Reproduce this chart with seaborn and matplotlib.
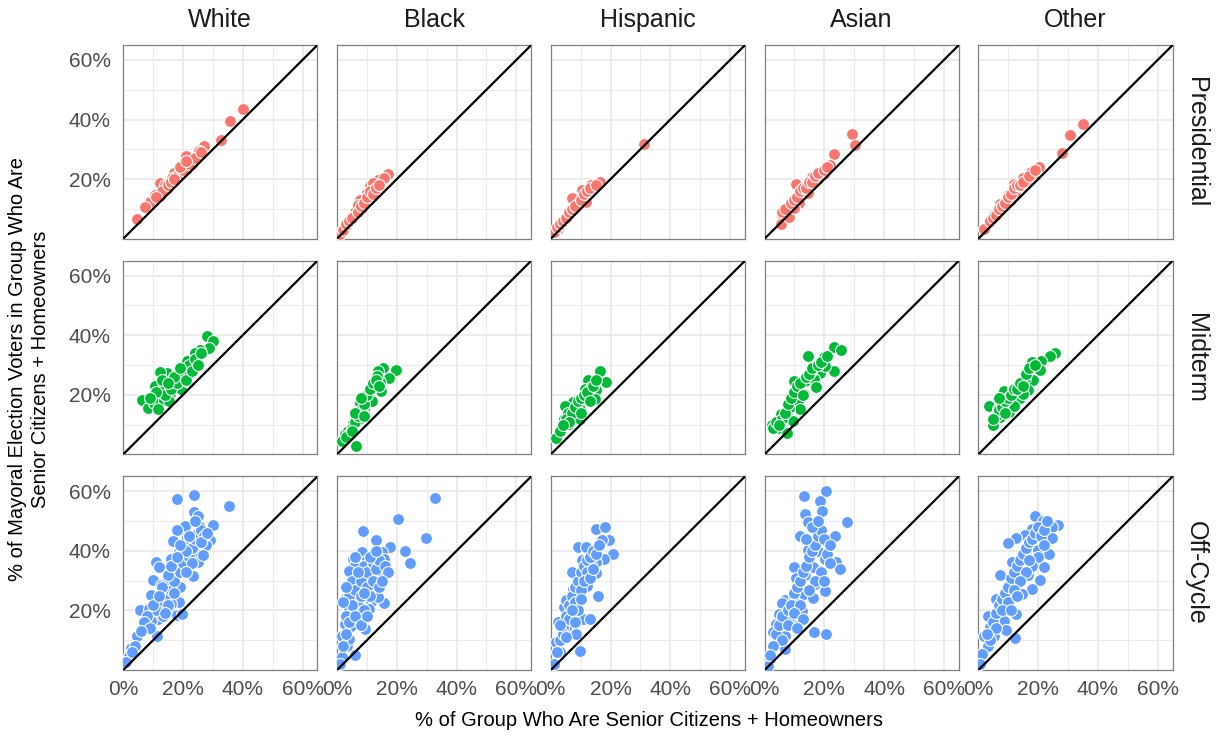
import pandas as pd
import seaborn as sns
import matplotlib.pyplot as plt
from matplotlib.ticker import PercentFormatter

# facets
groups = ['White', 'Black', 'Hispanic', 'Asian', 'Other']
elections = ['Presidential', 'Midterm', 'Off-Cycle']
election_colors = ['#F8766D', '#00BA38', '#619CFF']
x_ticks = [0, 0.2, 0.4, 0.6]
y_ticks = [0.2, 0.4, 0.6]

# values in percent
pres_white_x = [40.0, 35.6, 32.7, 27.0, 22.4, 21.0, 25.4, 19.0, 17.0, 15.8, 14.7, 12.5, 12.5, 9.1, 7.4, 4.8, 17.5, 21.5, 23.0, 19.8, 13.6, 10.8, 14.0, 16.4, 20.3, 18.7,
                13, 15, 16, 18, 20, 22, 24, 19, 21, 17, 11, 26]
pres_white_y = [43.4, 39.5, 33.3, 31.0, 27.0, 27.8, 29.5, 22.5, 22.0, 19.3, 16.8, 18.8, 14.2, 12.5, 10.8, 6.5, 20.8, 23.3, 25.0, 22.2, 16.5, 14.8, 18.2, 20.5, 23.9, 21.6,
                16, 18, 19, 21, 23, 25, 27, 24, 26, 20, 14, 29]
pres_black_x = [17.1, 13.9, 12.8, 11.1, 10.0, 9.4, 7.8, 6.6, 5.5, 4.4, 3.3, 1.0, 11.7, 8.3, 12.2, 15.6, 10.6, 6.0, 5.0, 7.2, 2.1,
                2, 3, 4, 5, 7, 8, 9, 10, 11, 12, 13, 14]
pres_black_y = [21.6, 19.7, 17.0, 17.6, 15.3, 12.5, 13.0, 10.8, 8.0, 6.3, 4.5, 1.7, 15.3, 10.2, 18.8, 20.5, 13.0, 9.0, 7.4, 11.4, 3.4,
                3, 5, 6, 7, 9, 11, 12, 14, 16, 15, 17, 18]
pres_hisp_x = [31.3, 14.7, 13.6, 16.4, 10.6, 7.1, 9.9, 11.9, 8.2, 5.7, 3.5, 2.4, 4.6, 7.4, 9.1, 1.2,
               2, 3, 4, 5, 6, 7, 8, 10, 11, 12, 13, 15]
pres_hisp_y = [31.8, 18.5, 18.2, 19.0, 16.3, 13.6, 12.8, 12.2, 10.6, 8.0, 5.1, 3.4, 6.5, 9.7, 11.7, 2.3,
               4, 5, 6, 7, 9, 10, 11, 13, 15, 16, 17, 18]
pres_asian_x = [29.3, 30.4, 23.3, 21.8, 19.0, 19.9, 16.0, 10.6, 15.6, 13.4, 12.2, 10.0, 8.9, 7.8, 6.0, 5.5, 8.3, 14.5, 17.9, 11.6, 10.0,
                6, 7, 9, 10, 11, 12, 13, 14, 15, 16, 17, 18, 20, 21]
pres_asian_y = [35.0, 31.3, 28.3, 24.8, 22.5, 21.6, 20.8, 18.5, 18.5, 16.3, 14.8, 13.0, 11.9, 10.2, 8.0, 5.1, 7.4, 15.3, 19.9, 11.9, 10.2,
                9, 10, 12, 13, 14, 16, 17, 17, 19, 19, 21, 22, 23, 24]
pres_other_x = [34.9, 30.7, 28.1, 20.2, 18.7, 17.5, 15.0, 11.8, 13.3, 12.4, 9.9, 10.8, 8.2, 7.1, 6.5, 3.7, 2.0, 16.1, 14.4, 5.4,
                4, 5, 6, 7, 8, 9, 10, 11, 12, 13, 14, 15, 17, 19]
pres_other_y = [38.6, 34.7, 28.8, 24.2, 22.2, 22.4, 20.5, 18.5, 17.4, 15.1, 14.8, 13.1, 11.9, 11.6, 9.4, 5.9, 3.4, 19.3, 17.6, 8.0,
                6, 7, 8, 10, 11, 12, 14, 15, 17, 18, 18, 19, 21, 23]

mid_white_x = [28.0, 30.2, 28.8, 25.6, 23.9, 21.2, 22.2, 18.7, 14.7, 12.2, 16.9, 19.8, 10.6, 13.6, 12.8, 17.0, 6.3, 8.2, 10.2, 13.8, 11.6, 15.8, 20.3, 22.8, 19.2, 15.3, 21.5,
               14, 16, 18, 20, 22, 24, 26, 17, 13, 11, 9, 15, 19, 21, 23, 25]
mid_white_y = [39.6, 38.2, 35.6, 35.0, 33.9, 31.5, 28.4, 28.4, 27.3, 27.8, 25.8, 25.3, 23.0, 23.8, 21.2, 23.0, 18.3, 15.7, 17.1, 18.3, 15.4, 20.2, 26.4, 29.8, 21.9, 18.0, 24.7,
               20, 22, 24, 27, 30, 32, 34, 26, 25, 21, 19, 24, 29, 25, 28, 30]
mid_black_x = [19.8, 15.5, 13.9, 17.3, 14.5, 14.7, 11.1, 10.0, 7.8, 9.1, 7.5, 6.1, 4.4, 2.7, 1.6, 6.4, 12.2, 10.6, 5.5, 8.3, 3.8, 13.3, 11.7,
               4, 5, 6, 7, 8, 9, 10, 11, 12, 13, 14, 3, 6, 8, 9, 5]
mid_black_y = [28.3, 28.9, 28.1, 25.5, 24.4, 21.3, 21.3, 19.1, 17.4, 15.4, 11.8, 12.9, 8.7, 6.7, 4.5, 3.0, 23.0, 19.7, 10.7, 14.3, 7.9, 26.4, 18.0,
               7, 9, 11, 13, 15, 17, 20, 22, 24, 25, 23, 6, 14, 19, 13, 8]
mid_hisp_x = [16.4, 18.4, 12.5, 15.0, 11.6, 9.9, 7.4, 4.8, 6.0, 3.5, 1.8, 8.5, 11.3, 13.6, 6.9, 4.6, 9.7, 14.7, 5.7,
              3, 5, 7, 8, 9, 10, 11, 12, 13, 14, 6, 4, 10, 15]
mid_hisp_y = [28.1, 24.4, 24.9, 21.7, 18.5, 15.4, 17.6, 16.1, 10.3, 9.0, 5.4, 13.5, 22.0, 22.5, 12.9, 11.8, 11.8, 18.5, 14.0,
              8, 12, 14, 16, 18, 19, 20, 21, 18, 23, 11, 10, 14, 25]
mid_asian_x = [23.1, 25.7, 14.5, 19.9, 17.3, 23.1, 18.4, 10.0, 13.4, 16.7, 17.3, 13.1, 11.1, 12.0, 8.3, 7.5, 5.5, 4.4, 2.4, 7.5, 9.4, 15.6, 10.6, 20.1,
               3, 4, 6, 7, 8, 9, 10, 11, 12, 14, 15, 16, 18, 19, 13, 5, 21]
mid_asian_y = [36.0, 35.2, 33.1, 32.6, 29.8, 28.1, 27.3, 24.7, 24.7, 25.3, 22.5, 20.2, 18.0, 15.4, 15.7, 12.9, 13.5, 9.0, 9.8, 7.3, 11.2, 28.1, 21.3, 29.8,
               9, 11, 12, 14, 17, 19, 21, 23, 24, 26, 27, 29, 30, 31, 20, 10, 33]
mid_other_x = [25.6, 24.0, 20.9, 17.8, 20.6, 18.3, 15.7, 13.3, 16.6, 8.5, 9.8, 13.8, 3.7, 6.7, 10.2, 5.6, 7.1, 4.8, 12.1, 14.9, 11.6, 8.2,
               6, 7, 8, 9, 10, 11, 12, 13, 14, 15, 16, 17, 19, 5, 7, 9]
mid_other_y = [34.0, 33.1, 31.2, 30.9, 28.3, 25.1, 25.7, 23.4, 21.7, 21.3, 18.9, 18.8, 16.3, 15.4, 14.3, 12.9, 12.4, 9.8, 16.3, 20.2, 21.9, 17.4,
               13, 15, 16, 18, 19, 20, 22, 22, 24, 23, 27, 29, 30, 12, 19, 14]

off_white_x = [18.1, 23.8, 35.5, 23.8, 25.2, 30.0, 25.8, 20.8, 18.1, 21.5, 29.1, 27.8, 16.8, 18.7, 23.8, 21.6, 25.2, 15.9, 10.9, 11.9, 16.8, 20.8, 23.4, 9.9, 12.8, 18.9, 14.6, 9.3, 12.6, 18.8, 15.9, 5.6, 8.6, 12.6, 15.2, 18.1, 11.7, 6.9, 9.3, 13.5, 11.3, 4.6, 2.6, 2.0, 1.1, 19.6, 21.9, 26.8, 17.2, 14.6,
               14, 16, 13, 17, 19, 20, 22, 23, 24, 25, 26, 27, 21, 19, 15, 13, 11, 10, 8, 7, 12, 16, 18, 22, 24, 26, 28, 23, 21, 17, 15, 14, 9, 6, 4, 3]
off_white_y = [57.3, 58.8, 55.0, 53.1, 51.7, 48.7, 48.1, 48.3, 47.0, 44.7, 43.6, 41.9, 43.3, 39.7, 39.7, 37.6, 36.3, 37.2, 36.3, 34.6, 31.6, 34.0, 31.5, 30.3, 28.7, 27.9, 26.5, 25.3, 24.2, 22.8, 22.2, 20.0, 20.6, 21.9, 19.7, 18.5, 17.2, 14.7, 16.6, 18.1, 11.6, 11.3, 7.3, 4.6, 2.6, 18.9, 42.5, 38.5, 34.0, 29.6,
               24, 27, 22, 30, 33, 36, 38, 41, 44, 46, 47, 45, 40, 42, 32, 28, 20, 22, 18, 16, 25, 35, 38, 45, 50, 43, 46, 36, 33, 26, 22, 19, 14, 13, 8, 6]
off_black_x = [32.8, 20.5, 8.6, 29.8, 22.8, 24.5, 15.6, 13.0, 17.9, 15.2, 8.3, 11.9, 5.3, 6.0, 15.2, 11.3, 4.0, 8.2, 13.9, 4.6, 7.9, 11.9, 2.6, 6.0, 11.3, 13.9, 10.6, 4.0, 7.3, 2.6, 4.6, 9.3, 1.6, 3.3, 6.0, 1.6, 1.1, 4.0, 6.6, 15.9, 9.9, 13.2, 5.3, 8.2,
               3, 4, 5, 6, 7, 8, 9, 10, 10, 11, 12, 12, 13, 14, 14, 9, 8, 7, 6, 5, 3, 2, 4, 6, 9, 11, 13, 16, 17, 15, 3, 2, 8, 10]
off_black_y = [57.6, 50.7, 46.7, 44.4, 40.0, 36.0, 22.5, 43.6, 41.3, 39.7, 39.7, 39.1, 37.2, 35.2, 34.6, 34.0, 33.1, 32.4, 31.8, 28.4, 25.6, 27.9, 23.9, 23.4, 22.8, 24.5, 20.6, 20.6, 17.2, 15.5, 14.9, 13.8, 11.6, 8.2, 5.1, 4.3, 2.0, 10.4, 30.0, 37.4, 36.8, 29.6, 19.4, 17.8,
               18, 25, 30, 27, 22, 30, 35, 33, 28, 25, 36, 30, 34, 37, 28, 20, 25, 33, 38, 22, 12, 8, 16, 18, 26, 38, 40, 35, 33, 30, 28, 23, 15, 18]
off_hisp_x = [9.0, 11.7, 15.0, 18.3, 19.6, 20.9, 17.9, 15.0, 10.3, 7.0, 11.0, 15.0, 12.0, 7.3, 15.9, 10.0, 4.4, 6.4, 10.7, 2.6, 5.0, 8.3, 1.7, 3.0, 9.9, 1.1, 13.0, 17.0, 5.0, 13.6,
              3, 4, 5, 6, 7, 8, 9, 10, 11, 12, 13, 14, 12, 10, 8, 6, 4, 2, 9, 11, 13, 15, 16, 14, 7, 3, 5, 8, 10]
off_hisp_y = [41.3, 41.3, 47.5, 48.1, 43.6, 38.8, 37.2, 36.3, 36.8, 32.9, 32.6, 32.7, 28.1, 27.3, 24.8, 24.2, 21.1, 19.4, 17.2, 16.1, 14.4, 12.1, 9.3, 6.0, 6.3, 2.0, 17.2, 43.6, 23.4, 35.2,
              10, 14, 18, 22, 25, 28, 30, 33, 35, 37, 38, 40, 33, 27, 23, 17, 12, 6, 20, 30, 31, 39, 42, 34, 20, 15, 11, 16, 24]
off_asian_x = [20.5, 13.2, 18.5, 19.2, 13.4, 27.5, 14.7, 17.9, 12.0, 23.6, 17.0, 21.6, 14.6, 18.0, 24.0, 20.3, 25.2, 9.9, 16.3, 10.6, 17.0, 13.6, 7.0, 9.7, 13.2, 16.3, 6.0, 12.7, 8.3, 3.7, 3.0, 7.0, 3.7, 7.0, 1.7, 1.1, 16.4, 20.5, 20.3, 5.0, 11.0,
               4, 5, 6, 8, 9, 10, 11, 12, 13, 14, 15, 16, 17, 18, 19, 20, 21, 22, 19, 17, 15, 12, 10, 8, 6, 3, 2, 14, 16, 18, 22, 20, 13, 11]
off_asian_y = [60.2, 58.5, 56.7, 53.4, 52.5, 49.8, 49.8, 48.1, 45.0, 45.0, 43.6, 41.9, 40.2, 40.0, 36.3, 37.2, 34.0, 34.6, 34.6, 31.0, 29.0, 31.8, 23.4, 24.5, 25.4, 24.2, 22.5, 19.7, 17.2, 15.5, 12.7, 11.6, 9.3, 7.1, 3.7, 1.5, 12.7, 12.1, 26.4, 18.9, 14.9,
               12, 15, 18, 20, 22, 26, 28, 30, 33, 35, 38, 40, 42, 45, 47, 44, 39, 36, 33, 30, 27, 22, 19, 15, 10, 8, 5, 44, 48, 50, 42, 30, 17, 14]
off_other_x = [18.9, 21.5, 26.5, 24.5, 17.9, 15.6, 24.5, 12.6, 9.9, 19.9, 23.8, 15.9, 19.2, 11.3, 21.9, 14.3, 7.3, 20.5, 11.3, 17.9, 6.0, 10.6, 14.6, 3.3, 7.9, 12.6, 8.6, 4.0, 12.2, 2.0, 3.3, 1.3, 0.7, 5.3, 9.3, 16.6,
               5, 6, 7, 8, 9, 10, 11, 12, 13, 14, 15, 16, 17, 18, 19, 20, 21, 22, 20, 18, 16, 14, 12, 10, 8, 6, 4, 3, 22, 23, 17, 13, 11]
off_other_y = [51.7, 50.0, 48.7, 48.1, 47.3, 45.3, 44.2, 44.4, 42.8, 40.4, 39.1, 38.5, 36.9, 36.1, 34.6, 32.9, 31.8, 30.1, 28.4, 27.3, 23.9, 25.1, 25.6, 18.3, 20.6, 18.9, 16.6, 14.4, 10.8, 11.6, 8.2, 5.4, 2.0, 11.6, 13.3, 31.8,
               16, 19, 22, 24, 26, 28, 31, 33, 35, 37, 39, 41, 43, 44, 46, 48, 45, 42, 38, 35, 33, 30, 27, 23, 20, 14, 10, 12, 47, 50, 37, 25, 20]

panels = {
    ('Presidential', 'White'): (pres_white_x, pres_white_y),
    ('Presidential', 'Black'): (pres_black_x, pres_black_y),
    ('Presidential', 'Hispanic'): (pres_hisp_x, pres_hisp_y),
    ('Presidential', 'Asian'): (pres_asian_x, pres_asian_y),
    ('Presidential', 'Other'): (pres_other_x, pres_other_y),
    ('Midterm', 'White'): (mid_white_x, mid_white_y),
    ('Midterm', 'Black'): (mid_black_x, mid_black_y),
    ('Midterm', 'Hispanic'): (mid_hisp_x, mid_hisp_y),
    ('Midterm', 'Asian'): (mid_asian_x, mid_asian_y),
    ('Midterm', 'Other'): (mid_other_x, mid_other_y),
    ('Off-Cycle', 'White'): (off_white_x, off_white_y),
    ('Off-Cycle', 'Black'): (off_black_x, off_black_y),
    ('Off-Cycle', 'Hispanic'): (off_hisp_x, off_hisp_y),
    ('Off-Cycle', 'Asian'): (off_asian_x, off_asian_y),
    ('Off-Cycle', 'Other'): (off_other_x, off_other_y),
}

frames = []
for (el, gr), (xs, ys) in panels.items():
    frames.append(pd.DataFrame({'election': el, 'group': gr, 'seniors': xs, 'voters': ys}))
df = pd.concat(frames, ignore_index=True)
df['seniors'] = df['seniors'] / 100
df['voters'] = df['voters'] / 100

sns.set_theme(style='white')
plt.rcParams['font.family'] = ['Liberation Sans', 'DejaVu Sans']

fig, axes = plt.subplots(3, 5, figsize=(12.19, 7.38), dpi=100, sharex=True, sharey=True)
fig.subplots_adjust(left=0.101, right=0.962, top=0.939, bottom=0.092, wspace=0.10, hspace=0.113)

for i, el in enumerate(elections):
    for j, gr in enumerate(groups):
        ax = axes[i, j]
        sub = df[(df['election'] == el) & (df['group'] == gr)]
        sns.scatterplot(data=sub, x='seniors', y='voters', color=election_colors[i],
                        s=74, edgecolor='white', linewidth=0.8, alpha=1, ax=ax, zorder=3)
        ax.axline((0, 0), slope=1, color='black', lw=1.6, zorder=4)
        ax.set_xlim(0, 0.65)
        ax.set_ylim(0, 0.65)
        ax.set_xticks(x_ticks)
        ax.set_yticks(y_ticks)
        ax.set_xticks([0.1, 0.3, 0.5], minor=True)
        ax.set_yticks([0.1, 0.3, 0.5], minor=True)
        ax.xaxis.set_major_formatter(PercentFormatter(1.0, decimals=0))
        ax.yaxis.set_major_formatter(PercentFormatter(1.0, decimals=0))
        ax.grid(which='major', color='#EBEBEB', lw=1.3, zorder=0)
        ax.grid(which='minor', color='#EBEBEB', lw=0.7, zorder=0)
        ax.set_axisbelow(True)
        ax.tick_params(which='both', length=0, labelsize=15, labelcolor='#4D4D4D')
        ax.tick_params(axis='x', pad=7)
        ax.tick_params(axis='y', pad=9)
        for sp in ax.spines.values():
            sp.set_visible(True)
            sp.set_color('#7F7F7F')
            sp.set_linewidth(0.9)
        ax.set_xlabel('')
        ax.set_ylabel('')
        if i == 0:
            ax.text(0.5, 1.13, gr, transform=ax.transAxes, ha='center', va='center',
                    fontsize=18, color='#1A1A1A')
        if j == len(groups) - 1:
            ax.text(1.12, 0.5, el, transform=ax.transAxes, ha='center', va='center',
                    rotation=270, fontsize=18, color='#1A1A1A')

fig.text(0.532, 0.024, '% of Group Who Are Senior Citizens + Homeowners',
         ha='center', va='center', fontsize=14.5, color='black')
fig.text(0.024, 0.5, '% of Mayoral Election Voters in Group Who Are\nSenior Citizens + Homeowners',
         ha='center', va='center', rotation=90, fontsize=14.5, color='black',
         multialignment='center', linespacing=1.25)

fig.savefig('out.png', dpi=100)
